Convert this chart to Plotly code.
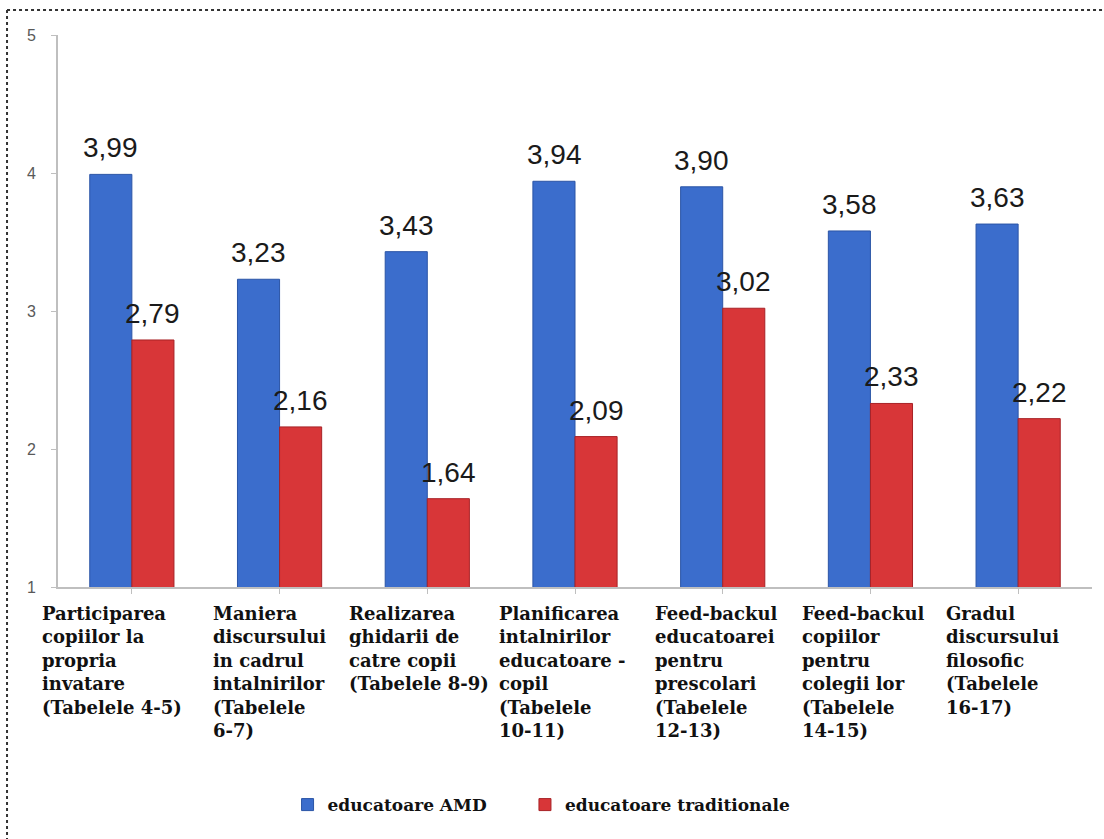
import plotly.graph_objects as go

categories = [
    "Participarea<br>copiilor la<br>propria<br>invatare<br>(Tabelele 4-5)",
    "Maniera<br>discursului<br>in cadrul<br>intalnirilor<br>(Tabelele<br>6-7)",
    "Realizarea<br>ghidarii de<br>catre copii<br>(Tabelele 8-9)",
    "Planificarea<br>intalnirilor<br>educatoare -<br>copil<br>(Tabelele<br>10-11)",
    "Feed-backul<br>educatoarei<br>pentru<br>prescolari<br>(Tabelele<br>12-13)",
    "Feed-backul<br>copiilor<br>pentru<br>colegii lor<br>(Tabelele<br>14-15)",
    "Gradul<br>discursului<br>filosofic<br>(Tabelele<br>16-17)",
]
amd = [3.99, 3.23, 3.43, 3.94, 3.90, 3.58, 3.63]
traditionale = [2.79, 2.16, 1.64, 2.09, 3.02, 2.33, 2.22]
series_names = ["educatoare AMD", "educatoare traditionale"]
y_ticks = [1, 2, 3, 4, 5]

label_shift = [-92, -69, -80, -78, -70, -70, -74]
value_font = dict(family="Liberation Sans, Arial", size=28, color="#1a1a1a")
cat_font = dict(family="DejaVu Serif", size=18, color="#111111", weight="bold")
legend_font = dict(family="DejaVu Serif", size=17, color="#111111", weight="bold")

idx = list(range(len(categories)))

fig = go.Figure()
fig.add_trace(go.Bar(
    x=idx, y=amd, name=series_names[0], legend="legend",
    marker=dict(color="#3B6DCC", line=dict(color="#2B55A6", width=1)),
))
fig.add_trace(go.Bar(
    x=idx, y=traditionale, name=series_names[1], legend="legend2",
    marker=dict(color="#D83638", line=dict(color="#A82226", width=1)),
))

for series, dx in ((amd, -21), (traditionale, 21)):
    for i, v in enumerate(series):
        fig.add_annotation(
            x=i, y=v, xref="x", yref="y", xshift=dx, yshift=9,
            text=f"{v:.2f}".replace(".", ","), showarrow=False,
            xanchor="center", yanchor="bottom", font=value_font,
        )

for i, lab in enumerate(categories):
    fig.add_annotation(
        x=i, y=0, xref="x", yref="paper", yshift=-14,
        text=lab, showarrow=False, xanchor="left", yanchor="top",
        xshift=label_shift[i], align="left", font=cat_font,
    )

# dashed frame
frame = dict(type="line", xref="paper", yref="paper",
             line=dict(color="#333333", width=2, dash="dot"))
fig.add_shape(**frame, x0=-0.0493, x1=-0.0493, y0=-0.46, y1=1.0453)
fig.add_shape(**frame, x0=-0.0493, x1=1.02, y0=1.0453, y1=1.0453)

fig.update_layout(
    width=1104, height=839,
    margin=dict(l=58, r=12, t=35, b=252),
    paper_bgcolor="white", plot_bgcolor="white",
    barmode="group", bargap=0.43, bargroupgap=0,
    separators=", ",
    showlegend=True,
    legend=dict(orientation="h", x=0.222, xanchor="left", y=-0.395, yanchor="middle",
                font=legend_font, itemwidth=30),
    legend2=dict(orientation="h", x=0.4516, xanchor="left", y=-0.395, yanchor="middle",
                 font=legend_font, itemwidth=30),
    xaxis=dict(range=[-0.5, len(categories) - 0.5], showticklabels=False,
               showline=True, linecolor="#BFBFBF", linewidth=2,
               ticks="outside", tickson="boundaries", ticklen=5, tickcolor="#BFBFBF",
               tickmode="array", tickvals=idx, showgrid=False, zeroline=False),
    yaxis=dict(range=[1, 5], tickvals=y_ticks, showline=True, linecolor="#BFBFBF", linewidth=2,
               ticks="outside", ticklen=5, tickcolor="#BFBFBF", showgrid=False, zeroline=False,
               tickfont=dict(family="Liberation Sans, Arial", size=16, color="#595959"),
               ticklabelstandoff=12),
)

fig.write_html("out.html")
